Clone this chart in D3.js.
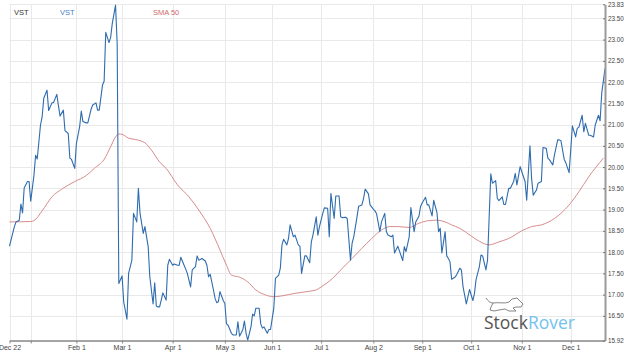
<!DOCTYPE html>
<html><head><meta charset="utf-8">
<script src="https://cdn.jsdelivr.net/npm/d3@7"></script>
<style>
body{margin:0;background:#fff}
svg{display:block}
text{font-family:"Liberation Sans",Arial,sans-serif}
</style>
</head><body>
<svg id="c" width="624" height="356"></svg>
<script>
// ---- DATA ----
const vstData = [
["2020-12-22",18.14],["2020-12-25",18.60],["2020-12-26",18.71],["2020-12-28",18.75],["2020-12-29",19.13],
["2020-12-30",18.92],["2020-12-31",19.51],["2021-01-02",19.66],["2021-01-03",19.66],["2021-01-04",19.20],
["2021-01-06",19.81],["2021-01-07",20.28],["2021-01-08",20.19],["2021-01-10",20.99],["2021-01-11",21.18],
["2021-01-12",21.62],["2021-01-14",21.81],["2021-01-15",21.33],["2021-01-17",21.51],["2021-01-18",21.52],
["2021-01-20",21.71],["2021-01-21",21.44],["2021-01-22",21.20],["2021-01-24",21.34],["2021-01-25",20.86],
["2021-01-27",20.79],["2021-01-28",20.21],["2021-01-29",20.18],["2021-01-31",19.97],["2021-02-01",20.56],
["2021-02-03",20.95],["2021-02-04",21.32],["2021-02-05",21.07],["2021-02-07",21.04],["2021-02-08",21.04],
["2021-02-10",21.36],["2021-02-11",21.46],["2021-02-13",21.51],["2021-02-14",21.34],["2021-02-15",21.34],
["2021-02-17",21.93],["2021-02-18",22.02],["2021-02-19",23.17],["2021-02-21",22.93],["2021-02-22",23.05],
["2021-02-23",23.38],["2021-02-25",23.81],["2021-02-26",22.91],["2021-02-27",17.26],["2021-03-01",17.44],
["2021-03-02",16.83],["2021-03-04",16.42],["2021-03-05",17.50],["2021-03-07",17.81],["2021-03-08",18.91],
["2021-03-10",18.71],["2021-03-11",19.50],["2021-03-12",18.91],["2021-03-14",18.44],["2021-03-15",18.60],
["2021-03-17",18.13],["2021-03-18",17.42],["2021-03-20",16.78],["2021-03-21",17.28],["2021-03-22",16.73],
["2021-03-23",16.71],["2021-03-24",16.71],["2021-03-25",16.87],["2021-03-26",17.04],["2021-03-28",16.87],
["2021-03-29",17.69],["2021-03-30",17.83],["2021-04-01",17.69],["2021-04-02",17.72],["2021-04-04",17.69],
["2021-04-05",17.69],["2021-04-06",17.88],["2021-04-08",17.69],["2021-04-09",17.60],["2021-04-10",17.50],
["2021-04-12",17.18],["2021-04-13",17.58],["2021-04-15",17.66],["2021-04-16",17.91],["2021-04-17",17.81],
["2021-04-19",17.85],["2021-04-21",17.79],["2021-04-22",17.69],["2021-04-23",17.42],["2021-04-24",17.48],
["2021-04-26",17.11],["2021-04-27",16.91],["2021-04-28",16.81],["2021-04-29",16.83],["2021-04-30",17.07],
["2021-05-02",16.86],["2021-05-03",16.79],["2021-05-04",16.31],["2021-05-05",16.28],["2021-05-07",16.09],
["2021-05-08",16.05],["2021-05-10",16.05],["2021-05-11",16.36],["2021-05-12",16.02],["2021-05-14",16.17],
["2021-05-15",16.38],["2021-05-16",16.09],["2021-05-17",15.93],["2021-05-19",16.24],["2021-05-20",16.54],
["2021-05-21",16.50],["2021-05-22",16.68],["2021-05-24",16.68],["2021-05-25",16.31],["2021-05-26",16.21],
["2021-05-27",16.24],["2021-05-29",16.09],["2021-05-30",16.18],["2021-05-31",16.18],["2021-06-02",16.68],
["2021-06-03",17.38],["2021-06-05",17.46],["2021-06-06",17.62],["2021-06-07",18.17],["2021-06-08",18.30],
["2021-06-10",18.17],["2021-06-11",18.32],["2021-06-12",18.64],["2021-06-14",18.36],["2021-06-15",18.40],
["2021-06-17",18.17],["2021-06-18",18.14],["2021-06-19",17.50],["2021-06-21",17.91],["2021-06-22",17.91],
["2021-06-24",17.75],["2021-06-25",18.24],["2021-06-26",18.40],["2021-06-28",18.83],["2021-06-29",18.40],
["2021-06-30",18.60],["2021-07-02",18.91],["2021-07-03",19.04],["2021-07-05",19.03],["2021-07-06",18.36],
["2021-07-07",19.38],["2021-07-09",18.79],["2021-07-10",19.32],["2021-07-12",19.32],["2021-07-13",18.83],
["2021-07-14",18.81],["2021-07-16",18.82],["2021-07-17",18.79],["2021-07-19",17.81],["2021-07-20",18.21],
["2021-07-21",18.36],["2021-07-23",18.83],["2021-07-24",19.08],["2021-07-26",19.11],["2021-07-27",19.26],
["2021-07-28",19.48],["2021-07-30",19.37],["2021-07-31",19.11],["2021-08-02",19.01],["2021-08-03",18.97],
["2021-08-04",18.90],["2021-08-06",18.48],["2021-08-07",18.71],["2021-08-09",18.91],["2021-08-10",18.48],
["2021-08-11",18.40],["2021-08-13",18.36],["2021-08-14",18.40],["2021-08-15",17.98],["2021-08-17",18.14],
["2021-08-18",18.03],["2021-08-20",17.80],["2021-08-21",18.13],["2021-08-22",18.01],["2021-08-24",18.36],
["2021-08-25",19.05],["2021-08-27",18.48],["2021-08-28",18.71],["2021-08-30",18.85],["2021-08-31",19.08],
["2021-09-01",19.16],["2021-09-03",19.29],["2021-09-04",19.11],["2021-09-05",19.11],["2021-09-07",18.85],
["2021-09-08",19.22],["2021-09-10",18.93],["2021-09-11",18.48],["2021-09-12",18.56],["2021-09-13",17.98],
["2021-09-15",18.48],["2021-09-16",17.91],["2021-09-17",17.85],["2021-09-18",17.77],["2021-09-19",17.36],
["2021-09-21",17.41],["2021-09-22",17.46],["2021-09-24",17.62],["2021-09-25",17.58],["2021-09-26",17.18],
["2021-09-28",16.78],["2021-09-29",16.95],["2021-09-30",17.12],["2021-10-02",16.86],["2021-10-03",17.03],
["2021-10-04",17.36],["2021-10-06",17.66],["2021-10-07",17.93],["2021-10-08",17.91],["2021-10-10",17.58],
["2021-10-11",17.81],["2021-10-13",19.84],["2021-10-14",19.62],["2021-10-16",19.68],["2021-10-17",19.26],
["2021-10-18",19.21],["2021-10-20",19.30],["2021-10-21",19.12],["2021-10-22",19.12],["2021-10-24",19.50],
["2021-10-25",19.50],["2021-10-27",19.66],["2021-10-28",19.85],["2021-10-29",19.58],["2021-10-31",20.01],
["2021-11-01",19.89],["2021-11-03",19.66],["2021-11-04",19.22],["2021-11-06",20.50],["2021-11-07",19.74],
["2021-11-08",19.34],["2021-11-10",19.46],["2021-11-11",19.62],["2021-11-13",19.66],["2021-11-14",20.46],
["2021-11-16",20.44],["2021-11-17",20.21],["2021-11-18",20.17],["2021-11-20",20.05],["2021-11-21",20.28],
["2021-11-23",20.64],["2021-11-24",20.64],["2021-11-25",20.62],["2021-11-27",20.18],["2021-11-28",20.10],
["2021-11-30",19.87],["2021-12-01",20.40],["2021-12-02",20.97],["2021-12-04",20.71],["2021-12-05",20.91],
["2021-12-06",20.94],["2021-12-08",21.22],["2021-12-09",20.83],["2021-12-10",21.03],["2021-12-12",20.75],
["2021-12-13",20.75],["2021-12-15",20.71],["2021-12-16",20.99],["2021-12-18",21.22],["2021-12-19",21.09],
["2021-12-20",21.74],["2021-12-22",22.32]
];
const smaData = [
["2020-12-22",18.71],["2021-01-04",18.72],["2021-01-06",18.74],["2021-01-11",18.97],["2021-01-17",19.30],
["2021-01-23",19.48],["2021-01-31",19.66],["2021-02-07",19.80],["2021-02-12",19.97],["2021-02-18",20.18],
["2021-02-22",20.48],["2021-02-25",20.71],["2021-02-27",20.78],["2021-03-01",20.77],["2021-03-05",20.68],
["2021-03-09",20.65],["2021-03-15",20.57],["2021-03-19",20.40],["2021-03-24",20.12],["2021-03-28",19.97],
["2021-04-04",19.58],["2021-04-11",19.30],["2021-04-17",18.99],["2021-04-24",18.56],["2021-04-30",18.05],
["2021-05-04",17.69],["2021-05-07",17.46],["2021-05-12",17.41],["2021-05-17",17.30],["2021-05-22",17.11],
["2021-05-28",16.99],["2021-06-02",16.95],["2021-06-07",16.97],["2021-06-15",17.03],["2021-06-24",17.08],
["2021-06-28",17.11],["2021-07-01",17.18],["2021-07-08",17.38],["2021-07-14",17.62],["2021-07-20",17.85],
["2021-07-26",18.09],["2021-08-01",18.32],["2021-08-07",18.52],["2021-08-12",18.60],["2021-08-17",18.60],
["2021-08-24",18.58],["2021-08-30",18.68],["2021-09-05",18.74],["2021-09-10",18.75],["2021-09-15",18.71],
["2021-09-19",18.64],["2021-09-24",18.56],["2021-09-28",18.46],["2021-10-04",18.30],["2021-10-12",18.17],
["2021-10-18",18.24],["2021-10-24",18.32],["2021-11-01",18.50],["2021-11-07",18.60],["2021-11-13",18.64],
["2021-11-21",18.79],["2021-11-30",19.11],["2021-12-06",19.42],["2021-12-12",19.77],["2021-12-21",20.21]
];
const yTicks = [15.92,16.5,17.0,17.5,18.0,18.5,19.0,19.5,20.0,20.5,21.0,21.5,22.0,22.5,23.0,23.5,23.83];
const xTickDates = ["2020-12-22","2021-01-04","2021-02-01","2021-03-01","2021-04-01","2021-05-03","2021-06-01",
                    "2021-07-01","2021-08-02","2021-09-01","2021-10-01","2021-11-01","2021-12-01"];
const xTickLabels = ["Dec 22","","Feb 1","Mar 1","Apr 1","May 3","Jun 1","Jul 1","Aug 2","Sep 1","Oct 1","Nov 1","Dec 1"];
const legendItems = [["VST","#333333"],["VST","#4a7fc0"],["SMA 50","#d26b6b"]];

// ---- CHART ----
const parse = d3.timeParse("%Y-%m-%d");
const svg = d3.select("#c");
const L = 9.5, R = 605, T = 4.3, B = 340.5;
const x = d3.scaleTime().domain([parse("2020-12-22"), parse("2021-12-22")]).range([L, R]);
const y = d3.scaleLinear().domain([15.92, 23.83]).range([B, T]);
const xt = xTickDates.map(parse);

// grid
const grid = svg.append("g");
grid.selectAll(".hg").data(yTicks).join("line")
  .attr("x1", L).attr("x2", R).attr("y1", d => Math.round(y(d)) + 0.5).attr("y2", d => Math.round(y(d)) + 0.5)
  .attr("stroke", "#e9e9e9").attr("stroke-width", 1);
grid.selectAll(".vg").data(xt).join("line")
  .attr("x1", d => Math.round(x(d)) + 0.5).attr("x2", d => Math.round(x(d)) + 0.5).attr("y1", T).attr("y2", B)
  .attr("stroke", "#e9e9e9").attr("stroke-width", 1);

// SMA
const line = d3.line().x(d => x(parse(d[0]))).y(d => y(d[1]));
svg.append("path").datum(smaData)
  .attr("d", line.curve(d3.curveMonotoneX))
  .attr("fill", "none").attr("stroke", "#d98c8c").attr("stroke-width", 1);

// VST
svg.append("path").datum(vstData)
  .attr("d", d3.line().x(d => x(parse(d[0]))).y(d => y(d[1])))
  .attr("fill", "none").attr("stroke", "#2f6cae").attr("stroke-width", 1.1).attr("stroke-linejoin", "round");

// x axis
const xa = svg.append("g").attr("transform", `translate(0,${B})`)
  .call(d3.axisBottom(x).tickValues(xt).tickFormat((d, i) => xTickLabels[i]).tickSize(3).tickSizeOuter(0).tickPadding(2));
xa.select(".domain").attr("stroke", "#8a8a8a").attr("stroke-width", 1.5);
xa.selectAll(".tick line").attr("stroke", "#8a8a8a");
xa.selectAll("text").attr("fill", "#444").style("font-size", "7px").style("font-family", '"Liberation Sans",Arial,sans-serif');

// y axis right
const ya = svg.append("g").attr("transform", `translate(${R},0)`)
  .call(d3.axisRight(y).tickValues(yTicks).tickFormat(d3.format(".2f")).tickSize(-2).tickSizeOuter(0).tickPadding(3));
ya.select(".domain").attr("stroke", "#9a9a9a").attr("stroke-width", 2);
ya.selectAll(".tick line").attr("stroke", "#777");
ya.selectAll("text").attr("fill", "#444").style("font-size", "6.3px").style("font-family", '"Liberation Sans",Arial,sans-serif');

// legend
const lx = [14, 60, 153];
svg.selectAll(".lg").data(legendItems).join("text")
  .attr("x", (d, i) => lx[i]).attr("y", 15)
  .attr("fill", d => d[1]).style("font-size", "7.5px").text(d => d[0]);

// logo
const logo = svg.append("g");
logo.append("path")
  .attr("d", "M486,298 C488,301 490,303 493,303 C499,302 505,304 509,302 L512,299 L517,298 L520,301 L523,304 L521,307 L516,307 L513,308 L516,311 L509,311 L505,309 L499,310 L494,311 L490,310 L491,307 L493,303")
  .attr("fill", "none").attr("stroke", "#777").attr("stroke-width", 0.9);
const lt = logo.append("text").attr("x", 484).attr("y", 329)
  .style("font-family", '"Open Sans","Noto Sans",sans-serif').style("font-size", "17.5px");
lt.append("tspan").attr("fill", "#555555").text("Stock");
lt.append("tspan").attr("fill", "#74c2ee").text("Rover");
</script>
</body></html>
